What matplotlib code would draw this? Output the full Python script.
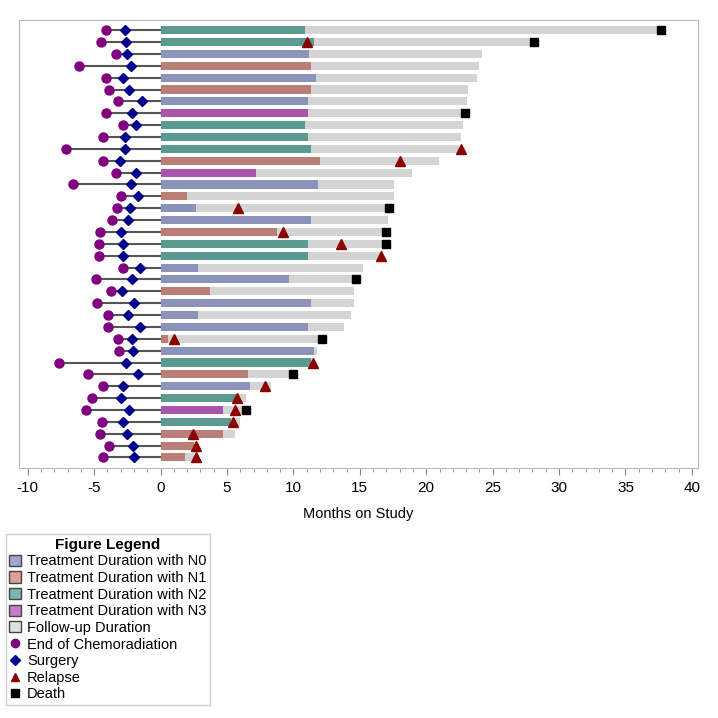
import numpy as np
import matplotlib
matplotlib.use('Agg')
import matplotlib.pyplot as plt
from matplotlib.patches import Patch
from matplotlib.lines import Line2D
from matplotlib.ticker import MultipleLocator

plt.rcParams['font.family'] = ['Liberation Sans', 'DejaVu Sans']
plt.rcParams['axes.unicode_minus'] = False

nan = np.nan
# one entry per patient, top row first
chemo_end = [-4.07, -4.45, -3.34, -6.13, -4.12, -3.89, -3.19, -4.10, -2.84, -4.32,
             -7.09, -4.32, -3.37, -6.61, -2.94, -3.24, -3.64, -4.57, -4.60, -4.62,
             -2.79, -4.82, -3.69, -4.75, -3.94, -3.92, -3.22, -3.14, -7.64, -5.45,
             -4.32, -5.13, -5.58, -4.37, -4.57, -3.84, -4.35]
surgery = [-2.66, -2.59, -2.56, -2.21, -2.86, -2.39, -1.43, -2.11, -1.81, -2.66,
           -2.71, -3.02, -1.88, -2.19, -1.71, -2.26, -2.46, -2.94, -2.79, -2.79,
           -1.56, -2.11, -2.91, -1.98, -2.46, -1.56, -2.11, -2.09, -2.59, -1.71,
           -2.81, -2.94, -2.34, -2.79, -2.56, -2.09, -1.98]
treat_end = [10.85, 11.56, 11.2, 11.36, 11.68, 11.36, 11.1, 11.1, 10.85, 11.1,
             11.36, 12.0, 7.16, 11.86, 1.96, 2.64, 11.3, 8.79, 11.1, 11.1,
             2.81, 9.7, 3.72, 11.36, 2.81, 11.1, 0.58, 11.56, 11.36, 6.56,
             6.73, 5.65, 4.72, 5.33, 4.7, 2.5, 1.84]
nstage = ['N2', 'N2', 'N0', 'N1', 'N0', 'N1', 'N0', 'N3', 'N2', 'N2',
          'N2', 'N1', 'N3', 'N0', 'N1', 'N0', 'N0', 'N1', 'N2', 'N2',
          'N0', 'N0', 'N1', 'N0', 'N0', 'N0', 'N1', 'N0', 'N2', 'N1',
          'N0', 'N2', 'N3', 'N2', 'N1', 'N1', 'N1']
followup_end = [37.6, 28.0, 24.2, 24.0, 23.86, 23.15, 23.05, 22.7, 22.78, 22.6,
                22.5, 20.96, 18.9, 17.6, 17.57, 16.9, 17.15, 16.8, 16.8, 16.6,
                15.23, 14.4, 14.53, 14.53, 14.33, 13.82, 11.95, 11.76, 11.56, 9.8,
                8.29, 6.46, 6.3, 5.95, 5.6, 2.6, 2.5]
relapse = [nan, 11.06, nan, nan, nan, nan, nan, nan, nan, nan,
           22.6, 18.0, nan, nan, nan, 5.83, nan, 9.2, 13.6, 16.6,
           nan, nan, nan, nan, nan, nan, 1.03, nan, 11.46, nan,
           7.89, 5.73, 5.58, 5.45, 2.46, 2.7, 2.7]
death = [37.7, 28.1, nan, nan, nan, nan, nan, 22.9, nan, nan,
         nan, nan, nan, nan, nan, 17.2, nan, 17.0, 16.97, nan,
         nan, 14.75, nan, nan, nan, nan, 12.14, nan, nan, 9.97,
         nan, nan, 6.41, nan, nan, nan, nan]

stage_colors = {'N0': '#8c93bb', 'N1': '#bb7e77', 'N2': '#5a9a90', 'N3': '#a855ab'}
fu_color = '#d4d4d4'

n = len(chemo_end)
y = np.arange(n, 0, -1)

fig = plt.figure(figsize=(7.18, 7.18), dpi=100)
ax = fig.add_axes([0.0265, 0.348, 0.9455, 0.624])

ax.hlines(y, chemo_end, 0, color='#555555', lw=1.5, zorder=1)
ax.barh(y, followup_end, left=0, height=0.68, color=fu_color, zorder=2)
ax.barh(y, treat_end, left=0, height=0.68,
        color=[stage_colors[s] for s in nstage], zorder=3)
ax.plot(chemo_end, y, 'o', color='#800080', ms=6.5, zorder=4)
ax.plot(surgery, y, 'D', color='#00008b', ms=5.5, zorder=5)
ax.plot(relapse, y, '^', color='#8b0000', ms=6.5, zorder=6)
ax.plot(death, y, 's', color='black', ms=6, zorder=7)

ax.set_xlim(-10.65, 40.45)
ax.set_ylim(0.1, n + 0.85)
ax.set_yticks([])
ax.xaxis.set_major_locator(MultipleLocator(5))
ax.xaxis.set_minor_locator(MultipleLocator(1))
ax.tick_params(axis='x', which='major', length=5, color='#888888', labelsize=11, pad=4)
ax.tick_params(axis='x', which='minor', length=3, color='#888888')
for sp in ax.spines.values():
    sp.set_color('#bbbbbb')
ax.set_xlabel('Months on Study', fontsize=10.5, labelpad=9)

handles = [
    Patch(facecolor='#a0a6cc', edgecolor='#444444', label='Treatment Duration with N0'),
    Patch(facecolor='#d9a098', edgecolor='#444444', label='Treatment Duration with N1'),
    Patch(facecolor='#79b7ad', edgecolor='#444444', label='Treatment Duration with N2'),
    Patch(facecolor='#c879cc', edgecolor='#444444', label='Treatment Duration with N3'),
    Patch(facecolor='#e0e0e0', edgecolor='#444444', label='Follow-up Duration'),
    Line2D([], [], marker='o', ls='', color='#800080', ms=6, label='End of Chemoradiation'),
    Line2D([], [], marker='D', ls='', color='#00008b', ms=5, label='Surgery'),
    Line2D([], [], marker='^', ls='', color='#8b0000', ms=6, label='Relapse'),
    Line2D([], [], marker='s', ls='', color='black', ms=5.5, label='Death'),
]
leg = fig.legend(handles=handles, loc='upper left', bbox_to_anchor=(0.008, 0.256),
                 title='Figure Legend', fontsize=10.5, title_fontsize=11,
                 handlelength=0.8, handleheight=0.8, handletextpad=0.4,
                 labelspacing=0.18, borderpad=0.25, borderaxespad=0,
                 fancybox=False, edgecolor='#cccccc', framealpha=1)
leg.get_title().set_fontweight('bold')

fig.savefig('out.png', dpi=100)
